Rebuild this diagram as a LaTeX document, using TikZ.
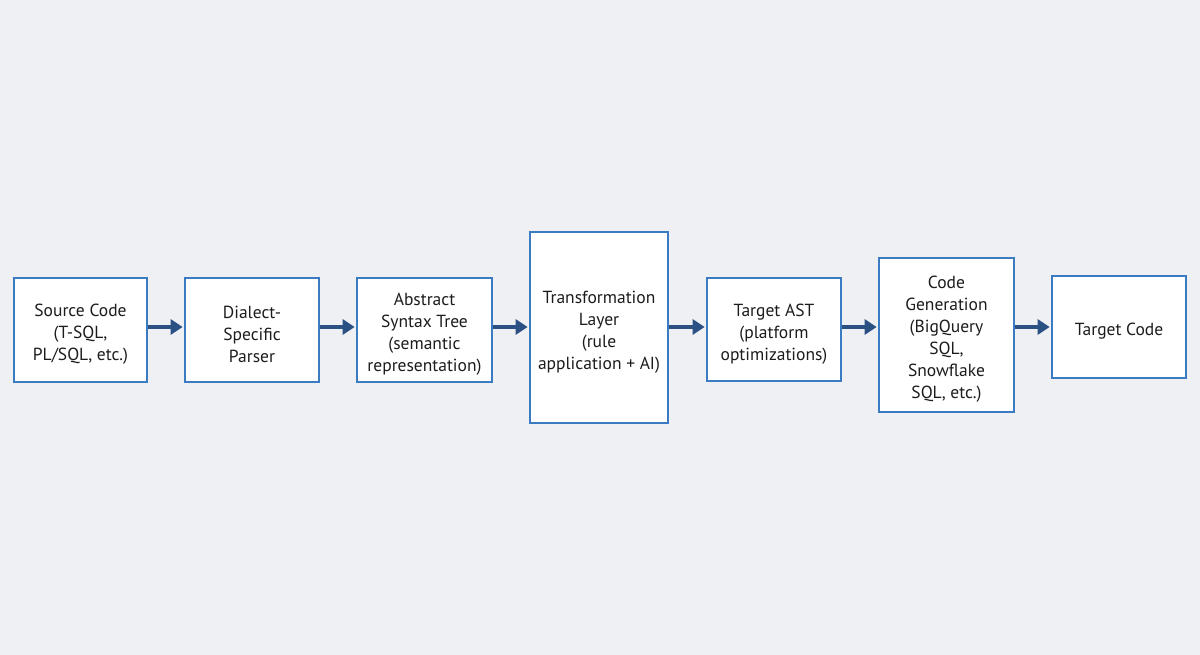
\documentclass[tikz,border=0pt]{standalone}
\usepackage{fontspec}
\setmainfont{PT Sans}
\usetikzlibrary{arrows.meta}
\definecolor{bg}{HTML}{EEF0F4}
\definecolor{boxline}{HTML}{3A7BC2}
\definecolor{arrowc}{HTML}{2B5184}
\definecolor{txt}{HTML}{1C1C1C}
\newcommand{\tstrut}{\rule{0pt}{21pt}}
\tikzset{
  stagebox/.style={draw=boxline, line width=2.6pt, fill=white, inner sep=0pt,
    align=center, text=txt, font=\fontsize{17.5}{22}\selectfont},
  flowarrow/.style={draw=arrowc, line width=4.5pt,
    -{Triangle[length=12pt,width=15pt]}, shorten >=1pt}
}
\begin{document}
\begin{tikzpicture}[x=1pt,y=-1pt]
\fill[bg] (0,0) rectangle (1200,655);
\useasboundingbox (0,0) rectangle (1200,655);
\node[stagebox, minimum width=133pt, minimum height=104pt] (src) at (80.5,330) {\tstrut Source Code\\(T-SQL,\\PL/SQL, etc.)};
\node[stagebox, minimum width=134pt, minimum height=104pt] (parse) at (252,330) {\tstrut Dialect-\\Specific\\Parser};
\node[stagebox, minimum width=135pt, minimum height=104pt] (ast) at (424.5,330) {\tstrut Abstract\\Syntax Tree\\(semantic\\representation)};
\node[stagebox, minimum width=138pt, minimum height=191pt] (trans) at (599,327.5) {\tstrut Transformation\\Layer\\(rule\\application + AI)};
\node[stagebox, minimum width=134pt, minimum height=103pt] (tast) at (774,329.5) {\tstrut Target AST\\(platform\\optimizations)};
\node[stagebox, minimum width=135pt, minimum height=154pt] (gen) at (946.5,335) {\tstrut Code\\Generation\\(BigQuery\\SQL,\\Snowflake\\SQL, etc.)};
\node[stagebox, minimum width=134pt, minimum height=102pt] (tgt) at (1119,327) {\tstrut Target Code};
\draw[flowarrow] (src.east |- 0,327) -- (parse.west |- 0,327);
\draw[flowarrow] (parse.east |- 0,327) -- (ast.west |- 0,327);
\draw[flowarrow] (ast.east |- 0,327) -- (trans.west |- 0,327);
\draw[flowarrow] (trans.east |- 0,327) -- (tast.west |- 0,327);
\draw[flowarrow] (tast.east |- 0,327) -- (gen.west |- 0,327);
\draw[flowarrow] (gen.east |- 0,327) -- (tgt.west |- 0,327);
\end{tikzpicture}
\end{document}
